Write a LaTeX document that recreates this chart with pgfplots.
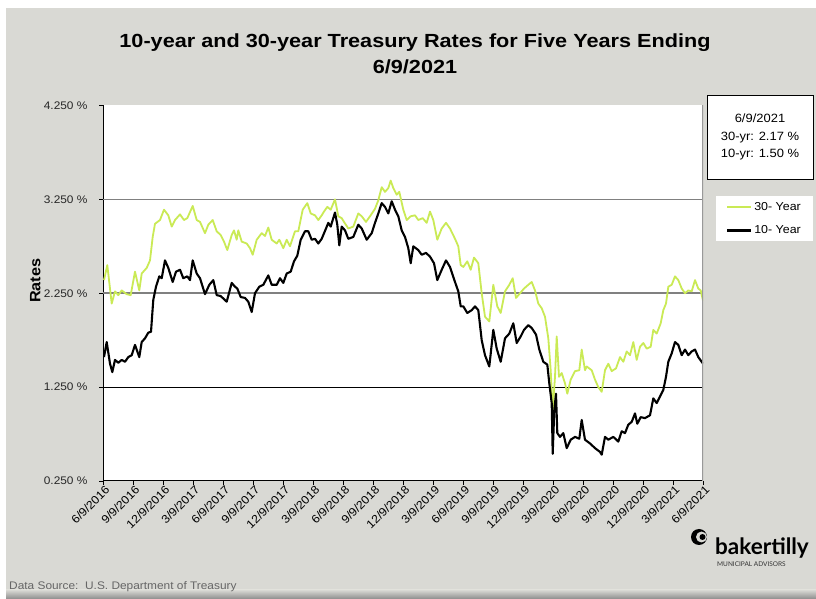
\documentclass[border=0pt]{standalone}
\usepackage{fontspec}
\setmainfont{Liberation Sans}[FakeStretch=1.08]
\newfontfamily\titlefont{Liberation Sans}[FakeStretch=1.14]
\newfontfamily\logofont{Lato}
\usepackage{pgfplots}
\pgfplotsset{compat=1.18}
\definecolor{bgray}{RGB}{217,217,212}
\definecolor{lime}{RGB}{202,234,85}
\definecolor{gridgray}{RGB}{128,128,128}
\begin{document}
\begin{tikzpicture}
\fill[white] (0pt,0pt) rectangle (816pt,599pt);
\fill[bgray] (6pt,0pt) rectangle (816pt,591pt);
\shade[top color=bgray, bottom color=black!45] (6pt,0pt) rectangle (816pt,9pt);
\begin{axis}[
  at={(103pt,118pt)}, anchor=south west,
  scale only axis, width=600pt, height=375.5pt,
  xmin=0, xmax=60, ymin=0.25, ymax=4.25,
  axis background/.style={fill=white},
  axis x line*=bottom, axis y line*=left,
  axis line style={black, line width=1pt},
  tick align=outside, major tick length=4pt,
  tick style={black, line width=0.8pt},
  xtick={0,3,...,60},
  xticklabels={6/9/2016,9/9/2016,12/9/2016,3/9/2017,6/9/2017,9/9/2017,12/9/2017,3/9/2018,6/9/2018,9/9/2018,12/9/2018,3/9/2019,6/9/2019,9/9/2019,12/9/2019,3/9/2020,6/9/2020,9/9/2020,12/9/2020,3/9/2021,6/9/2021},
  xticklabel style={rotate=45, anchor=north east, font=\fontsize{11.5}{12}\selectfont, inner sep=0.5pt, xshift=2pt},
  ytick={0.25,1.25,2.25,3.25,4.25},
  yticklabels={0.250 \%,1.250 \%,2.250 \%,3.250 \%,4.250 \%},
  yticklabel style={font=\fontsize{11}{12}\selectfont, text=black!85, xshift=-8pt},
  ylabel={Rates},
  ylabel style={font=\bfseries\fontsize{15}{16}\selectfont, at={(axis description cs:-0.113,0.533)}, anchor=center},
  title={10-year and 30-year Treasury Rates for Five Years Ending\\6/9/2021},
  title style={font=\titlefont\bfseries\fontsize{19}{26}\selectfont, align=center, at={(axis description cs:0.52,1.122)}, anchor=center},
  legend style={at={(rel axis cs:1.0217,0.759)}, anchor=north west, draw=none, fill=white,
    font=\fontsize{11.5}{13}\selectfont, row sep=10pt, inner xsep=10pt, inner ysep=4pt},
  legend cell align=left,
  legend image code/.code={\draw[#1] (0pt,0pt) -- (24pt,0pt);},
  every axis plot/.append style={line join=round},
]
\draw[gridgray, line width=1.6pt] (axis cs:0,3.25) -- (axis cs:60,3.25);
\draw[gridgray, line width=1.6pt] (axis cs:0,2.25) -- (axis cs:60,2.25);
\draw[black, line width=0.9pt] (axis cs:0,1.25) -- (axis cs:60,1.25);
\addplot[lime, line width=1.8pt] coordinates {
(0.1,2.39)(0.43,2.55)(0.87,2.14)(1.2,2.27)(1.53,2.23)(1.87,2.28)(2.37,2.24)(2.77,2.23)(3.2,2.48)(3.63,2.28)(3.87,2.46)(4.37,2.52)(4.7,2.60)(4.97,2.85)(5.2,2.99)(5.7,3.03)(6.1,3.14)(6.53,3.08)(6.87,2.96)(7.2,3.03)(7.7,3.09)(8.1,3.03)(8.43,3.05)(8.97,3.18)(9.37,3.03)(9.7,3.01)(10.2,2.89)(10.53,2.98)(10.97,3.03)(11.37,2.91)(11.77,2.87)(12.1,2.80)(12.43,2.71)(12.87,2.87)(13.1,2.92)(13.37,2.82)(13.53,2.92)(13.87,2.80)(14.37,2.78)(14.7,2.73)(14.97,2.66)(15.37,2.82)(15.87,2.89)(16.2,2.86)(16.53,2.95)(16.87,2.82)(17.37,2.78)(17.63,2.82)(18.03,2.73)(18.37,2.82)(18.7,2.75)(19.2,2.91)(19.53,2.91)(19.97,3.14)(20.43,3.21)(20.77,3.10)(21.2,3.08)(21.53,3.03)(21.87,3.08)(22.1,3.12)(22.43,3.17)(22.77,3.14)(23.2,3.25)(23.53,3.07)(23.87,3.05)
(24.1,3.01)(24.53,2.94)(25.03,2.96)(25.53,3.10)(25.87,3.07)(26.3,3.01)(26.7,3.07)(27.2,3.15)(27.53,3.24)(27.87,3.38)(28.2,3.33)(28.53,3.37)(28.77,3.45)(29.03,3.37)(29.37,3.30)(29.63,3.33)(30.03,3.14)(30.37,3.03)(30.77,3.07)(31.2,3.08)(31.53,3.03)(31.97,3.05)(32.37,3.00)(32.7,3.12)(33.03,3.03)(33.43,2.82)(33.87,2.94)(34.3,3.00)(34.7,2.94)(35.2,2.83)(35.53,2.75)(35.77,2.55)
(36.03,2.53)(36.43,2.59)(36.77,2.50)(37.1,2.63)(37.53,2.57)(37.87,2.25)(38.2,2.00)(38.63,1.95)(39.03,2.34)(39.43,2.11)(39.77,2.04)(40.2,2.27)(40.63,2.34)(40.97,2.41)(41.3,2.20)(41.7,2.25)(42.1,2.30)(42.53,2.34)(42.87,2.37)(43.2,2.28)(43.53,2.14)(43.87,2.09)(44.2,2.00)(44.53,1.77)(44.77,1.43)(44.97,1.00)(45.2,1.36)(45.37,1.79)(45.6,1.36)(45.87,1.40)(46.2,1.29)(46.43,1.18)(46.77,1.33)(47.2,1.42)(47.63,1.43)(47.87,1.65)(48.2,1.43)
(48.37,1.47)(48.87,1.43)(49.2,1.33)(49.53,1.25)(49.87,1.20)(50.2,1.43)(50.53,1.50)(50.87,1.42)(51.3,1.45)(51.7,1.57)(52.03,1.52)(52.37,1.63)(52.7,1.59)(53.03,1.73)(53.37,1.54)(53.7,1.68)(54.03,1.72)(54.37,1.66)(54.77,1.68)(55.03,1.86)(55.37,1.82)(55.77,1.93)(56.03,2.07)(56.3,2.14)(56.53,2.32)(56.87,2.34)(57.2,2.43)(57.53,2.39)(57.87,2.30)(58.2,2.25)(58.53,2.28)(58.87,2.27)(59.2,2.39)(59.53,2.30)(59.77,2.28)(60,2.17)
};
\addlegendentry{30- Year}
\addplot[black, line width=2.1pt] coordinates {
(0.1,1.57)(0.37,1.73)(0.7,1.50)(0.93,1.41)(1.2,1.54)(1.53,1.51)(1.87,1.54)(2.2,1.52)(2.53,1.57)(2.87,1.59)(3.2,1.70)(3.63,1.57)(3.87,1.73)(4.2,1.77)(4.53,1.83)(4.8,1.84)(5.03,2.18)(5.3,2.32)(5.63,2.43)(5.87,2.41)(6.2,2.60)(6.53,2.52)(6.97,2.37)(7.3,2.48)(7.7,2.50)(8.03,2.41)(8.43,2.43)(8.7,2.39)(8.97,2.60)(9.37,2.46)(9.7,2.41)(10.2,2.24)(10.63,2.34)(11.03,2.39)(11.37,2.23)(11.77,2.22)(12.37,2.16)(12.87,2.36)(13.2,2.32)(13.43,2.30)(13.77,2.21)(14.2,2.20)(14.53,2.16)(14.87,2.05)(15.2,2.25)(15.63,2.32)(16.03,2.34)(16.53,2.44)(16.87,2.34)(17.37,2.34)(17.7,2.41)(18.03,2.36)(18.37,2.46)(18.77,2.48)(19.1,2.59)(19.43,2.65)(19.77,2.82)(20.2,2.91)(20.53,2.91)(20.87,2.82)(21.2,2.83)(21.53,2.78)(21.87,2.83)(22.3,2.94)(22.53,3.00)(22.77,2.96)(23.2,3.11)(23.43,2.98)(23.63,2.76)(23.87,2.96)
(24.2,2.92)(24.53,2.83)(25.03,2.85)(25.53,2.98)(25.87,2.94)(26.37,2.82)(26.87,2.89)(27.2,3.00)(27.53,3.10)(27.87,3.21)(28.2,3.17)(28.53,3.10)(28.87,3.23)(29.2,3.14)(29.53,3.07)(29.87,2.92)(30.2,2.85)(30.53,2.73)(30.77,2.57)(31.03,2.75)(31.53,2.71)(31.87,2.66)(32.3,2.68)(32.7,2.64)(33.1,2.57)(33.43,2.39)(33.87,2.50)(34.3,2.60)(34.7,2.53)(35.2,2.37)(35.53,2.27)(35.77,2.11)
(36.03,2.11)(36.43,2.04)(36.87,2.07)(37.2,2.11)(37.53,2.07)(37.87,1.75)(38.2,1.59)(38.63,1.47)(39.03,1.86)(39.37,1.66)(39.77,1.52)(40.2,1.77)(40.63,1.82)(41.03,1.93)(41.37,1.72)(41.77,1.79)(42.1,1.86)(42.53,1.91)(42.87,1.88)(43.3,1.81)(43.63,1.65)(44.03,1.52)(44.43,1.49)(44.63,1.29)(44.87,1.08)(44.97,0.54)(45.13,1.01)(45.3,1.18)(45.43,0.76)(45.7,0.72)(46.03,0.76)(46.37,0.60)(46.77,0.69)(47.2,0.72)(47.63,0.70)(47.87,0.90)(48.2,0.69)
(48.7,0.65)(49.2,0.60)(49.7,0.56)(49.87,0.53)(50.2,0.72)(50.53,0.69)(51.03,0.72)(51.53,0.67)(51.87,0.78)(52.2,0.76)(52.53,0.85)(52.87,0.88)(53.2,0.97)(53.43,0.86)(53.77,0.93)(54.2,0.92)(54.7,0.95)(55.03,1.13)(55.37,1.08)(55.7,1.15)(56.03,1.22)(56.3,1.36)(56.53,1.52)(56.87,1.61)(57.2,1.73)(57.53,1.70)(57.87,1.59)(58.2,1.65)(58.53,1.59)(58.87,1.63)(59.2,1.65)(59.53,1.57)(60,1.50)
};
\addlegendentry{10- Year}
\draw[black!40, line width=1.5pt] (rel axis cs:1,0) -- (rel axis cs:1,1);
\end{axis}
% info box
\node[draw=black, fill=white, line width=0.8pt, minimum width=106pt, minimum height=84pt,
  align=center, font=\fontsize{12}{17.5}\selectfont] at (760pt,462pt)
  {6/9/2021\\30-yr: 2.17 \%\\10-yr: 1.50 \%};
% source
\node[anchor=west, font=\fontsize{11}{12}\selectfont, text=black!60, inner sep=0pt] at (9pt,12pt)
  {Data Source:\ \ U.S. Department of Treasury};
% logo
\fill[black] (699pt,62pt) circle (8pt);
\fill[bgray] (701.5pt,62pt) circle (5.5pt);
\fill[black] (702.5pt,62pt) circle (3pt);
\node[anchor=base west, font=\logofont\bfseries\fontsize{22.5}{24}\selectfont, inner sep=0pt] at (715pt,44pt) {bakertilly};
\node[anchor=west, font=\logofont\fontsize{6.5}{7}\selectfont, text=black!80, inner sep=0pt] at (717pt,35pt) {MUNICIPAL ADVISORS};
\end{tikzpicture}
\end{document}
